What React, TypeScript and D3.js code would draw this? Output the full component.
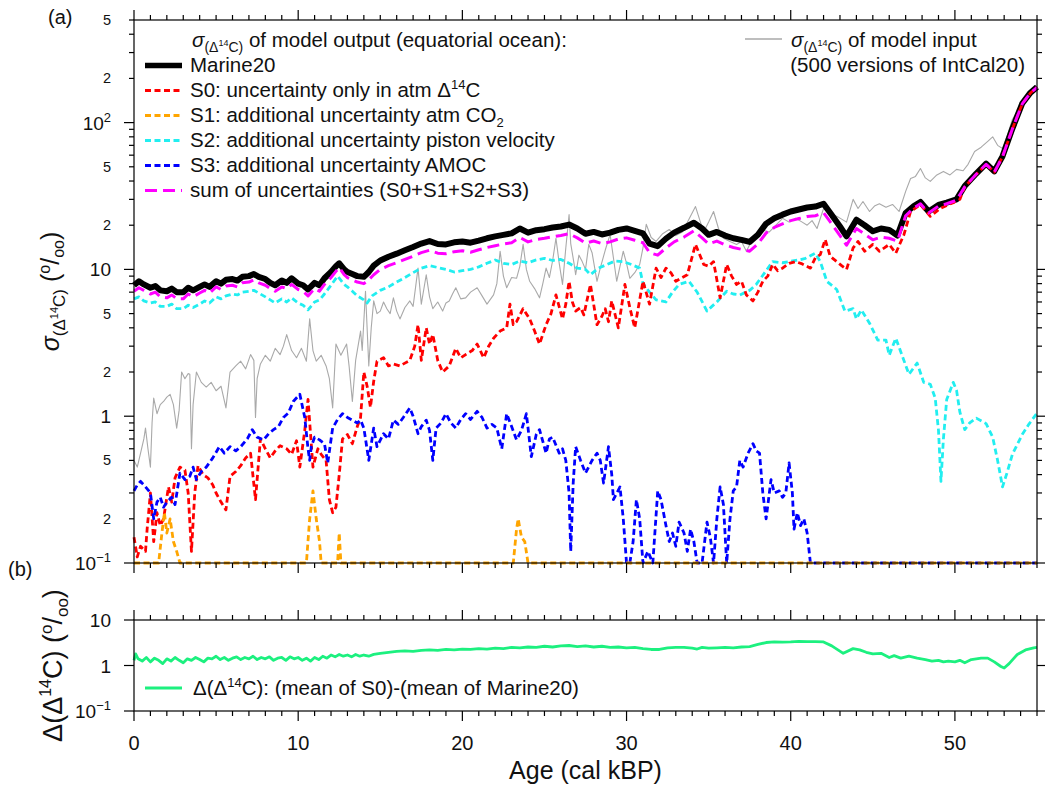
import React, { useEffect, useRef } from 'react';
import * as d3 from 'd3';

type Pt = [number, number];

// ---- panel (a): sigma(D14C) in permil, [age kBP, value] ----
const intcalInput: Pt[] = [
  [0, 0.5], [0.2, 0.45], [0.4, 0.56], [0.6, 0.7], [0.7, 0.83], [0.85, 0.6], [1.0, 0.45], [1.1, 0.9], [1.2, 1.33],
  [1.4, 1.04], [1.6, 1.2], [1.8, 1.26], [2.0, 1.35], [2.2, 1.41], [2.4, 1.2], [2.6, 0.83], [2.75, 1.1], [2.9, 2.0],
  [3.1, 1.8], [3.3, 1.95], [3.4, 1.93], [3.5, 0.6], [3.6, 1.2], [3.8, 2.0], [4.1, 1.7], [4.4, 1.58], [4.7, 1.7],
  [5.0, 1.49], [5.3, 1.6], [5.6, 1.14], [5.85, 2.0], [6.2, 2.2], [6.5, 2.37], [6.8, 2.1], [7.1, 2.63], [7.3, 2.4],
  [7.4, 0.98], [7.5, 1.8], [7.7, 2.27], [8.0, 2.6], [8.3, 2.37], [8.6, 2.9], [8.9, 2.63], [9.1, 3.0], [9.3, 3.6],
  [9.6, 2.8], [9.9, 2.5], [10.2, 2.9], [10.5, 2.37], [10.7, 4.6], [10.9, 2.8], [11.1, 2.37], [11.4, 2.6], [11.7, 2.2],
  [11.9, 1.8], [12.1, 1.14], [12.3, 3.1], [12.6, 2.6], [12.95, 3.1], [13.1, 2.2], [13.3, 1.26], [13.5, 2.4],
  [13.8, 3.8], [13.9, 2.8], [14.1, 7.1], [14.3, 2.2], [14.45, 4.0], [14.6, 6.1], [14.8, 5.0], [15.0, 5.2], [15.2, 6.0],
  [15.4, 5.4], [15.6, 5.0], [15.8, 6.4], [16.0, 5.2], [16.2, 4.6], [16.5, 5.5], [16.8, 6.1], [17.0, 5.6], [17.3, 10.2],
  [17.5, 5.8], [17.8, 9.2], [18.0, 6.5], [18.2, 5.4], [18.5, 6.0], [18.8, 5.2], [19.0, 5.9], [19.2, 6.1], [19.4, 6.8],
  [19.6, 7.5], [19.9, 6.3], [20.2, 6.4], [20.5, 7.0], [20.9, 7.5], [21.2, 6.6], [21.5, 5.8], [21.9, 6.7], [22.1, 8.0],
  [22.3, 13.3], [22.5, 9.0], [22.7, 7.5], [23.0, 8.8], [23.3, 8.7], [23.5, 10.5], [23.7, 14.8], [23.9, 10.0],
  [24.1, 8.3], [24.4, 7.4], [24.7, 6.4], [24.9, 8.0], [25.1, 10.2], [25.3, 8.8], [25.5, 11.5], [25.7, 16.3],
  [25.9, 11.0], [26.1, 7.9], [26.3, 14.0], [26.5, 23.6], [26.6, 15.0], [26.8, 11.0], [26.9, 9.2], [27.1, 12.5],
  [27.3, 11.3], [27.5, 10.0], [27.7, 14.8], [27.9, 13.0], [28.2, 8.3], [28.4, 10.2], [28.7, 13.5], [29.0, 17.3],
  [29.2, 12.0], [29.4, 8.3], [29.6, 10.5], [29.8, 13.3], [30.0, 11.0], [30.2, 8.7], [30.5, 9.5], [30.8, 10.8],
  [31.0, 14.0], [31.2, 20.3], [31.5, 16.5], [31.8, 15.5], [32.2, 17.5], [32.6, 18.7], [33.0, 17.0], [33.4, 18.0],
  [33.8, 22.0], [34.2, 26.8], [34.5, 21.0], [34.7, 18.0], [35.0, 21.0], [35.3, 24.8], [35.6, 19.0], [35.9, 16.3],
  [36.3, 15.5], [36.7, 14.8], [37.0, 15.5], [37.3, 13.3], [37.6, 15.5], [37.9, 17.3], [38.3, 18.5], [38.7, 18.0],
  [39.1, 20.0], [39.5, 22.3], [39.9, 21.0], [40.3, 22.3], [40.7, 21.0], [41.0, 20.0], [41.3, 21.5], [41.6, 19.0],
  [42.0, 26.0], [42.4, 24.0], [42.8, 23.0], [43.1, 22.0], [43.4, 21.0], [43.8, 30.0], [44.1, 26.0], [44.4, 29.0],
  [44.8, 24.8], [45.1, 27.0], [45.4, 28.0], [45.8, 26.5], [46.2, 27.7], [46.6, 24.8], [47.0, 34.0], [47.3, 41.6],
  [47.6, 43.0], [47.9, 48.7], [48.2, 42.0], [48.5, 39.8], [48.9, 44.0], [49.3, 46.5], [49.7, 44.0], [50.1, 48.0],
  [50.5, 47.0], [50.8, 52.0], [51.2, 63.6], [51.6, 68.0], [52.0, 74.5], [52.3, 80], [52.6, 70.0], [52.9, 66.7],
  [53.2, 82], [53.5, 105], [54.1, 136], [54.6, 160], [55, 176],
];

const marine20: Pt[] = [
  [0, 7.8], [0.3, 8.3], [0.6, 7.9], [1, 7.5], [1.3, 7.7], [1.6, 7.2], [2, 7.1], [2.3, 7.4], [2.6, 7.0], [3, 7.0],
  [3.3, 7.5], [3.6, 7.2], [4, 7.6], [4.3, 7.9], [4.6, 7.6], [5, 8.3], [5.3, 8.0], [5.6, 8.5], [6, 8.6], [6.3, 8.4],
  [6.6, 8.9], [7, 9.0], [7.3, 9.3], [7.6, 8.9], [8, 8.6], [8.3, 8.1], [8.6, 7.8], [9, 8.4], [9.3, 8.1], [9.6, 8.7],
  [10, 8.0], [10.3, 7.8], [10.6, 7.3], [11, 8.1], [11.3, 7.8], [11.6, 8.7], [12, 9.6], [12.3, 10.5], [12.5, 11.0],
  [12.8, 10.0], [13, 9.6], [13.3, 9.3], [13.6, 9.0], [14, 8.9], [14.3, 9.6], [14.6, 10.6], [15, 11.5], [15.5, 12.2],
  [16, 12.8], [16.5, 13.5], [17, 14.2], [17.5, 15.0], [18, 15.6], [18.5, 14.9], [19, 14.8], [19.5, 15.3], [20, 15.5],
  [20.5, 15.2], [21, 15.7], [21.5, 16.3], [22, 16.8], [22.5, 17.2], [23, 17.6], [23.5, 19.0], [24, 17.8], [24.5, 18.5],
  [25, 18.8], [25.5, 19.3], [26, 19.6], [26.5, 20.2], [27, 19.0], [27.5, 17.5], [28, 18.0], [28.5, 17.3], [29, 17.8],
  [29.5, 18.6], [30, 19.0], [30.5, 18.3], [31, 17.6], [31.4, 15.0], [31.9, 14.4], [32.4, 16.2], [32.9, 17.8],
  [33.5, 19.2], [34.1, 20.8], [34.6, 19.0], [35, 17.2], [35.5, 18.0], [36, 17.0], [36.5, 16.3], [37, 15.9],
  [37.5, 15.4], [38, 17.2], [38.5, 20.5], [39, 22.3], [39.5, 23.6], [40, 24.8], [40.5, 25.6], [41, 26.4], [41.5, 26.8],
  [42, 28.0], [42.5, 23.5], [43, 19.6], [43.4, 16.8], [44, 21.8], [44.5, 20.0], [45, 18.2], [45.5, 19.0], [46, 18.6],
  [46.5, 17.0], [47, 24.2], [47.5, 27.0], [47.9, 28.8], [48.4, 24.8], [49, 27.5], [49.5, 28.5], [50.1, 30.0],
  [50.6, 37.0], [51.3, 45.0], [51.9, 52.5], [52.4, 46.5], [52.9, 58.9], [53.5, 91], [54.1, 135], [54.6, 160], [55, 175],
];

const s0AtmOnly: Pt[] = [
  [0, 0.15], [0.2, 0.11], [0.4, 0.13], [0.7, 0.12], [0.8, 0.17], [1.0, 0.3], [1.2, 0.14], [1.4, 0.22], [1.6, 0.18],
  [1.8, 0.2], [2.1, 0.33], [2.3, 0.26], [2.5, 0.38], [2.8, 0.45], [3.1, 0.43], [3.3, 0.3], [3.5, 0.12], [3.7, 0.3],
  [3.9, 0.46], [4.2, 0.4], [4.5, 0.38], [4.8, 0.34], [5, 0.3], [5.3, 0.26], [5.6, 0.23], [5.85, 0.39], [6.2, 0.42],
  [6.5, 0.46], [6.8, 0.52], [7.1, 0.56], [7.4, 0.27], [7.7, 0.7], [8.0, 0.6], [8.3, 0.52], [8.6, 0.58], [8.9, 0.63],
  [9.3, 0.6], [9.6, 0.55], [9.9, 0.68], [10.1, 0.45], [10.4, 0.8], [10.6, 1.3], [10.9, 0.45], [11.2, 0.6],
  [11.4, 0.55], [11.7, 0.5], [11.9, 0.27], [12.1, 0.22], [12.3, 0.24], [12.5, 0.4], [12.7, 0.7], [13.0, 0.75],
  [13.3, 0.65], [13.6, 0.85], [13.8, 0.98], [14.0, 2.0], [14.2, 1.6], [14.4, 1.15], [14.6, 1.73], [14.8, 2.37],
  [15.2, 2.5], [15.5, 2.2], [15.8, 2.27], [16.2, 2.2], [16.5, 2.3], [16.8, 2.4], [17.1, 3.0], [17.3, 4.2], [17.5, 2.4],
  [17.8, 4.0], [18.0, 3.1], [18.2, 3.6], [18.5, 2.4], [18.8, 2.0], [19.2, 2.2], [19.6, 2.9], [19.9, 2.5], [20.2, 2.63],
  [20.6, 2.8], [20.9, 3.1], [21.3, 2.5], [21.6, 3.0], [21.9, 3.4], [22.3, 3.8], [22.7, 4.0], [22.9, 5.8], [23.1, 4.2],
  [23.3, 4.4], [23.7, 5.4], [24.1, 4.6], [24.4, 3.8], [24.7, 3.1], [25.1, 4.2], [25.4, 5.0], [25.7, 6.7], [26.1, 4.6],
  [26.3, 5.8], [26.5, 8.3], [26.7, 6.0], [26.9, 5.2], [27.2, 5.5], [27.4, 4.9], [27.8, 7.9], [28.2, 4.2], [28.5, 4.8],
  [28.7, 5.4], [28.9, 4.4], [29.1, 6.1], [29.5, 4.0], [29.9, 7.9], [30.2, 5.5], [30.5, 4.0], [31.0, 8.3], [31.4, 5.8],
  [31.8, 10.2], [32.1, 8.8], [32.4, 10.2], [32.7, 9.5], [33.0, 8.3], [33.4, 8.8], [33.7, 9.2], [34.2, 14.8],
  [34.7, 10.8], [35.0, 10.5], [35.3, 11.3], [35.7, 6.4], [36.1, 10.8], [36.4, 9.0], [36.7, 7.9], [37.0, 8.3],
  [37.3, 6.7], [37.7, 6.1], [38.0, 7.0], [38.3, 8.3], [38.6, 9.0], [38.9, 10.8], [39.2, 9.8], [39.5, 10.2],
  [39.9, 11.0], [40.3, 11.3], [40.7, 10.9], [41.2, 10.2], [41.5, 12.0], [41.8, 12.6], [42.1, 16.0], [42.4, 12.3],
  [42.8, 11.3], [43.1, 10.6], [43.4, 10.0], [43.8, 14.0], [44.1, 15.5], [44.5, 13.3], [45.0, 14.8], [45.4, 13.3],
  [45.7, 14.0], [46.0, 14.8], [46.4, 12.9], [46.9, 17.3], [47.3, 24.8], [47.9, 27.7], [48.5, 23.0], [49.1, 26.0],
  [49.9, 28.5], [50.3, 30], [50.6, 36.5], [51.3, 44.5], [51.9, 52], [52.4, 46], [52.9, 58.5], [53.5, 90.5],
  [54.1, 134], [54.6, 159], [55, 174],
];

const s1Co2: Pt[] = [
  [0, 0.1], [1.5, 0.1], [1.7, 0.16], [1.85, 0.22], [2.0, 0.16], [2.2, 0.2], [2.4, 0.14], [2.6, 0.12], [2.8, 0.1],
  [10.5, 0.1], [10.7, 0.2], [10.9, 0.31], [11.1, 0.2], [11.3, 0.14], [11.4, 0.1], [12.4, 0.1], [12.5, 0.16],
  [12.6, 0.1], [23.1, 0.1], [23.3, 0.17], [23.4, 0.2], [23.6, 0.15], [23.8, 0.14], [24.0, 0.1], [55, 0.1],
];

const s2Piston: Pt[] = [
  [0, 6.3], [0.3, 6.5], [0.6, 6.1], [1, 5.9], [1.3, 6.0], [1.6, 5.6], [2, 5.6], [2.3, 5.8], [2.6, 5.4], [3, 5.4],
  [3.3, 5.7], [3.6, 5.5], [4, 5.8], [4.3, 6.1], [4.6, 5.9], [5, 6.5], [5.3, 6.3], [5.6, 6.6], [6, 6.8], [6.3, 6.7],
  [6.6, 7.0], [7, 7.1], [7.3, 7.2], [7.6, 6.9], [8, 6.5], [8.3, 6.2], [8.6, 5.9], [9, 6.3], [9.3, 6.0], [9.6, 6.4],
  [10, 5.9], [10.3, 5.7], [10.6, 5.3], [11, 6.0], [11.3, 6.2], [11.6, 6.8], [12, 7.8], [12.4, 9.0], [12.8, 7.9],
  [13, 7.6], [13.3, 7.1], [13.6, 6.6], [14, 6.2], [14.2, 5.9], [14.5, 6.6], [15, 7.2], [15.5, 7.6], [16, 8.2],
  [16.5, 8.8], [17, 9.5], [17.5, 10.2], [18, 10.6], [18.5, 10.3], [19, 10.0], [19.5, 9.6], [20, 9.8], [20.5, 10.0],
  [21, 10.4], [21.5, 11.0], [22, 11.6], [22.5, 11.0], [23, 10.8], [23.5, 11.4], [24, 11.1], [24.5, 11.6], [25, 11.9],
  [25.5, 11.5], [26, 11.7], [26.5, 11.0], [27, 10.2], [27.5, 10.0], [27.8, 9.2], [28.3, 10.2], [28.8, 10.8],
  [29.3, 11.4], [29.8, 11.3], [30.3, 10.8], [30.8, 10.2], [31, 8.0], [31.4, 7.0], [31.8, 6.2], [32.4, 6.0],
  [32.8, 7.0], [33.2, 7.9], [33.8, 8.3], [34.3, 7.0], [34.9, 5.2], [35.2, 5.6], [35.5, 6.0], [36.1, 7.1], [36.5, 6.8],
  [36.9, 6.7], [37.5, 7.2], [37.9, 7.9], [38.5, 9.8], [38.9, 11.3], [39.5, 11.1], [39.9, 11.3], [40.5, 11.6],
  [40.9, 11.9], [41.5, 12.9], [41.8, 11.3], [42.2, 8.3], [42.8, 7.3], [43.3, 5.2], [43.8, 5.4], [44.0, 4.6],
  [44.3, 5.3], [44.8, 4.3], [45.3, 3.3], [45.8, 3.3], [46.0, 2.6], [46.4, 3.4], [47.2, 1.93], [47.7, 2.3], [48.1, 1.7],
  [48.5, 1.65], [48.8, 1.33], [49.0, 0.8], [49.15, 0.36], [49.3, 0.7], [49.5, 1.3], [49.9, 1.7], [50.1, 1.5],
  [50.3, 1.07], [50.6, 0.81], [50.9, 0.9], [51.3, 0.97], [51.9, 0.89], [52.3, 0.72], [52.6, 0.5], [52.9, 0.33],
  [53.2, 0.42], [53.5, 0.55], [54.1, 0.75], [54.5, 0.88], [55, 1.05],
];

const s3Amoc: Pt[] = [
  [0, 0.31], [0.2, 0.34], [0.4, 0.36], [0.7, 0.33], [1.0, 0.3], [1.2, 0.2], [1.4, 0.26], [1.6, 0.28], [1.8, 0.24],
  [2.0, 0.26], [2.3, 0.28], [2.5, 0.25], [2.8, 0.41], [3.1, 0.37], [3.4, 0.39], [3.6, 0.45], [3.8, 0.37], [4.1, 0.42],
  [4.4, 0.45], [4.8, 0.52], [5.2, 0.62], [5.5, 0.56], [5.85, 0.62], [6.2, 0.58], [6.5, 0.62], [6.9, 0.7], [7.2, 0.81],
  [7.5, 0.72], [7.9, 0.69], [8.2, 0.76], [8.5, 0.81], [8.8, 0.85], [9.1, 0.98], [9.4, 1.05], [9.7, 1.26], [10.1, 1.41],
  [10.4, 0.98], [10.6, 0.6], [10.7, 0.5], [10.8, 0.62], [11.0, 0.72], [11.3, 0.69], [11.6, 0.65], [11.8, 0.48],
  [12.1, 0.83], [12.4, 0.95], [12.7, 1.04], [13.0, 0.98], [13.3, 0.94], [13.6, 0.9], [13.8, 0.94], [14.0, 0.83],
  [14.3, 0.5], [14.6, 0.83], [14.8, 0.62], [15.2, 0.76], [15.5, 0.7], [15.8, 0.94], [16.1, 0.88], [16.4, 0.98],
  [16.8, 1.14], [17.0, 1.0], [17.3, 0.76], [17.5, 0.85], [17.8, 0.94], [18.0, 0.8], [18.2, 0.5], [18.4, 0.83],
  [18.7, 0.9], [19.0, 1.04], [19.3, 0.9], [19.6, 0.83], [19.9, 0.95], [20.2, 1.04], [20.5, 0.95], [20.9, 1.08],
  [21.2, 0.98], [21.5, 0.83], [21.8, 0.88], [22.1, 0.83], [22.4, 0.6], [22.7, 1.04], [23.0, 0.85], [23.3, 0.69],
  [23.6, 0.8], [23.9, 1.04], [24.2, 0.53], [24.5, 0.75], [24.7, 0.81], [25.1, 0.56], [25.3, 0.7], [25.5, 0.72],
  [25.9, 0.56], [26.1, 0.6], [26.3, 0.5], [26.5, 0.3], [26.6, 0.12], [26.75, 0.35], [26.9, 0.62], [27.2, 0.5],
  [27.5, 0.41], [27.9, 0.5], [28.2, 0.56], [28.4, 0.5], [28.6, 0.35], [28.9, 0.62], [29.1, 0.4], [29.2, 0.27],
  [29.6, 0.33], [29.8, 0.2], [30.0, 0.1], [30.2, 0.1], [30.4, 0.14], [30.6, 0.27], [30.8, 0.2], [31.0, 0.1],
  [31.3, 0.12], [31.6, 0.1], [31.9, 0.31], [32.1, 0.27], [32.4, 0.18], [32.6, 0.14], [32.8, 0.16], [33.0, 0.13],
  [33.2, 0.19], [33.5, 0.16], [33.7, 0.12], [33.9, 0.17], [34.1, 0.14], [34.3, 0.1], [34.6, 0.1], [34.9, 0.19],
  [35.1, 0.15], [35.3, 0.1], [35.5, 0.2], [35.7, 0.33], [35.9, 0.25], [36.1, 0.1], [36.3, 0.2], [36.5, 0.31],
  [36.7, 0.33], [36.9, 0.5], [37.1, 0.45], [37.4, 0.56], [37.7, 0.65], [37.9, 0.58], [38.1, 0.56], [38.3, 0.3],
  [38.5, 0.2], [38.8, 0.37], [39.0, 0.3], [39.3, 0.31], [39.5, 0.28], [39.7, 0.3], [39.9, 0.48], [40.1, 0.3],
  [40.2, 0.17], [40.4, 0.22], [40.6, 0.18], [40.8, 0.2], [41.0, 0.16], [41.2, 0.1], [55, 0.1],
];

const sumOfUncertainties: Pt[] = [
  [0, 7.1], [0.3, 7.5], [0.6, 7.2], [1, 6.8], [1.3, 7.0], [1.6, 6.5], [2, 6.4], [2.3, 6.7], [2.6, 6.3], [3, 6.3],
  [3.3, 6.8], [3.6, 6.5], [4, 6.9], [4.3, 7.2], [4.6, 6.9], [5, 7.6], [5.3, 7.3], [5.6, 7.7], [6, 7.8], [6.3, 7.6],
  [6.6, 8.1], [7, 8.2], [7.3, 8.5], [7.6, 8.1], [8, 7.8], [8.3, 7.4], [8.6, 7.1], [9, 7.6], [9.3, 7.4], [9.6, 7.9],
  [10, 7.3], [10.3, 7.1], [10.6, 6.6], [11, 7.4], [11.3, 7.1], [11.6, 7.9], [12, 8.8], [12.3, 9.7], [12.5, 10.3],
  [12.8, 9.2], [13, 8.8], [13.3, 8.5], [13.6, 8.2], [14, 8.0], [14.3, 8.5], [14.6, 9.2], [15, 10.0], [15.5, 10.6],
  [16, 11.1], [16.5, 11.7], [17, 12.3], [17.5, 13.0], [18, 13.5], [18.5, 12.9], [19, 12.8], [19.5, 13.2], [20, 13.4],
  [20.5, 13.1], [21, 13.6], [21.5, 14.1], [22, 14.5], [22.5, 14.9], [23, 15.2], [23.5, 16.5], [24, 15.4], [24.5, 16.0],
  [25, 16.3], [25.5, 16.7], [26, 17.0], [26.5, 17.5], [27, 16.4], [27.5, 15.1], [28, 15.6], [28.5, 15.0], [29, 15.4],
  [29.5, 16.1], [30, 16.4], [30.5, 15.8], [31, 15.2], [31.4, 13.0], [31.9, 12.5], [32.4, 14.0], [32.9, 15.4],
  [33.5, 16.6], [34.1, 18.3], [34.6, 16.4], [35, 14.9], [35.5, 15.6], [36, 14.7], [36.5, 14.1], [37, 13.7],
  [37.5, 13.3], [38, 14.9], [38.5, 17.7], [39, 19.3], [39.5, 20.4], [40, 21.5], [40.5, 22.2], [41, 22.9], [41.5, 23.2],
  [42, 24.3], [42.5, 20.4], [43, 17.0], [43.4, 14.6], [44, 19.0], [44.5, 17.4], [45, 15.9], [45.5, 16.6], [46, 16.3],
  [46.5, 15.6], [47, 23.2], [47.5, 26.2], [47.9, 28.0], [48.4, 24.2], [49, 27.0], [49.5, 28.0], [50.1, 29.6],
  [50.6, 36.5], [51.3, 44.5], [51.9, 52], [52.4, 46], [52.9, 58.5], [53.5, 90.5], [54.1, 134], [54.6, 159], [55, 174],
];

// ---- panel (b): mean S0 minus mean Marine20, permil ----
const meanDiff: Pt[] = [
  [0, 1.3], [0.1, 1.8], [0.25, 1.4], [0.5, 1.25], [0.75, 1.5], [1, 1.2], [1.25, 1.45], [1.5, 1.3], [1.75, 1.1],
  [2, 1.4], [2.25, 1.25], [2.5, 1.5], [2.75, 1.3], [3, 1.15], [3.25, 1.4], [3.5, 1.3], [3.75, 1.5], [4, 1.35],
  [4.25, 1.2], [4.5, 1.45], [4.75, 1.4], [5, 1.6], [5.25, 1.35], [5.5, 1.5], [5.75, 1.3], [6, 1.45], [6.25, 1.55],
  [6.5, 1.35], [6.75, 1.5], [7, 1.4], [7.25, 1.6], [7.5, 1.35], [7.75, 1.5], [8, 1.4], [8.25, 1.55], [8.5, 1.3],
  [8.75, 1.45], [9, 1.5], [9.25, 1.3], [9.5, 1.55], [9.75, 1.4], [10, 1.5], [10.25, 1.3], [10.5, 1.45], [10.75, 1.25],
  [11, 1.5], [11.25, 1.35], [11.5, 1.6], [11.75, 1.45], [12, 1.7], [12.25, 1.55], [12.5, 1.75], [12.75, 1.6],
  [13, 1.7], [13.25, 1.55], [13.5, 1.75], [13.75, 1.6], [14.0, 1.7], [14.3, 1.6], [14.6, 1.75], [15, 1.85],
  [15.5, 1.95], [16, 2.05], [16.5, 2.1], [17, 2.05], [17.5, 2.15], [18, 2.2], [18.5, 2.15], [19, 2.25], [19.5, 2.2],
  [20, 2.3], [20.5, 2.25], [21, 2.35], [21.5, 2.3], [22, 2.4], [22.5, 2.35], [23, 2.5], [23.5, 2.45], [24, 2.55],
  [24.5, 2.5], [25, 2.65], [25.5, 2.55], [26, 2.7], [26.5, 2.75], [27, 2.6], [27.5, 2.7], [28, 2.55], [28.5, 2.65],
  [29, 2.5], [29.5, 2.55], [30, 2.45], [30.5, 2.5], [31, 2.35], [31.5, 2.25], [32, 2.25], [32.5, 2.45], [33, 2.5],
  [33.5, 2.5], [34, 2.4], [34.3, 2.3], [34.6, 2.5], [35, 2.4], [35.5, 2.45], [36, 2.5], [36.5, 2.45], [37, 2.55],
  [37.5, 2.6], [38, 2.9], [38.5, 3.2], [39, 3.3], [39.5, 3.25], [40, 3.3], [40.5, 3.4], [41, 3.35], [41.5, 3.35],
  [42, 3.3], [42.5, 2.7], [43.2, 1.85], [43.8, 2.35], [44.2, 2.2], [44.6, 1.95], [45, 1.8], [45.5, 1.85], [46, 1.5],
  [46.3, 1.65], [46.7, 1.45], [47.2, 1.6], [47.7, 1.45], [48.2, 1.35], [48.6, 1.25], [49, 1.3], [49.3, 1.2],
  [49.6, 1.25], [50, 1.2], [50.3, 1.3], [50.6, 1.15], [51, 1.35], [51.6, 1.45], [52, 1.45], [52.4, 1.2], [52.8, 0.95],
  [53.0, 0.88], [53.3, 1.1], [53.8, 1.75], [54.3, 2.2], [54.8, 2.45], [55, 2.5],
];

// ---- ticks ----
const ageMajorTicks = [0, 10, 20, 30, 40, 50];
const ageMinorTicks = d3.range(0, 56, 1);
const sigmaDecades = [0.1, 1, 10, 100];
const sigmaMinorTicks = [
  0.2, 0.3, 0.4, 0.5, 0.6, 0.7, 0.8, 0.9, 2, 3, 4, 5, 6, 7, 8, 9,
  20, 30, 40, 50, 60, 70, 80, 90, 200, 300, 400, 500,
];
const sigmaMinorLabels = ['2', '5', '2', '5', '2', '5', '2', '5'];
const sigmaMinorLabelValues = [0.2, 0.5, 2, 5, 20, 50, 200, 500];
const diffDecades = [0.1, 1, 10];

const FONT = '"Liberation Sans", Arial, Helvetica, sans-serif';

export default function App() {
  const svgRef = useRef<SVGSVGElement>(null);

  useEffect(() => {
    if (!svgRef.current) return;
    const svg = d3.select(svgRef.current);
    svg.selectAll('*').remove();

    const left = 134;
    const right = 1037;
    const aTop = 20;
    const aBot = 563;
    const bTop = 620;
    const bBot = 711;

    const x = d3.scaleLinear().domain([0, 55]).range([left, right]);
    const yA = d3.scaleLog().domain([0.1, 500]).range([aBot, aTop]);
    const yB = d3.scaleLog().domain([0.1, 10]).range([bBot, bTop]);

    const lineA = d3.line<Pt>().x(d => x(d[0])).y(d => yA(d[1]));
    const lineB = d3.line<Pt>().x(d => x(d[0])).y(d => yB(d[1]));

    const g = svg.append('g').attr('font-family', FONT);

    // series (panel a)
    const drawSeries = (data: Pt[], color: string, width: number, dash?: string) => {
      g.append('path')
        .datum(data)
        .attr('fill', 'none')
        .attr('stroke', color)
        .attr('stroke-width', width)
        .attr('stroke-linejoin', 'round')
        .attr('stroke-dasharray', dash || null)
        .attr('d', lineA);
    };

    drawSeries(intcalInput, '#a9a9a9', 1.1);
    drawSeries(marine20, '#000000', 6);
    drawSeries(s2Piston, '#22eef0', 2.8, '6,3.5');
    drawSeries(s0AtmOnly, '#ff0000', 2.8, '6,3.5');
    drawSeries(s3Amoc, '#0000ff', 2.8, '6,3.5');
    drawSeries(s1Co2, '#ffa500', 2.8, '6,3.5');
    drawSeries(sumOfUncertainties, '#ff00ff', 3, '12,6');

    // series (panel b)
    g.append('path')
      .datum(meanDiff)
      .attr('fill', 'none')
      .attr('stroke', '#1cf07f')
      .attr('stroke-width', 2.8)
      .attr('stroke-linejoin', 'round')
      .attr('d', lineB);

    // frames
    const frame = (y0: number, y1: number) => {
      g.append('rect')
        .attr('x', left)
        .attr('y', y0)
        .attr('width', right - left)
        .attr('height', y1 - y0)
        .attr('fill', 'none')
        .attr('stroke', '#000')
        .attr('stroke-width', 1.2);
    };
    frame(aTop, aBot);
    frame(bTop, bBot);

    const tick = (x1: number, y1: number, x2: number, y2: number) => {
      g.append('line')
        .attr('x1', x1).attr('y1', y1).attr('x2', x2).attr('y2', y2)
        .attr('stroke', '#000')
        .attr('stroke-width', 1.2);
    };

    // x ticks on every horizontal edge, pointing outward
    const edges: [number, number][] = [[aTop, -1], [aBot, 1], [bTop, -1], [bBot, 1]];
    edges.forEach(([y0, dir]) => {
      ageMinorTicks.forEach(k => {
        const len = ageMajorTicks.includes(k) ? 10 : 5;
        tick(x(k), y0, x(k), y0 + dir * len);
      });
    });

    // y ticks
    sigmaDecades.forEach(v => {
      tick(left, yA(v), left - 10, yA(v));
      tick(right, yA(v), right + 10, yA(v));
    });
    sigmaMinorTicks.forEach(v => {
      tick(left, yA(v), left - 5, yA(v));
      tick(right, yA(v), right + 5, yA(v));
    });
    diffDecades.forEach(v => {
      tick(left, yB(v), left - 10, yB(v));
      tick(right, yB(v), right + 10, yB(v));
    });

    // decade labels: 10^-1, 1, 10, 10^2
    const decadeLabel = (y: number, v: number) => {
      const t = g.append('text')
        .attr('x', 111)
        .attr('y', y + 7)
        .attr('text-anchor', 'end')
        .attr('font-size', 19)
        .attr('fill', '#111');
      const exp = Math.round(Math.log10(v));
      if (exp === 0) t.text('1');
      else if (exp === 1) t.text('10');
      else {
        t.append('tspan').text('10');
        t.append('tspan')
          .attr('font-size', 13)
          .attr('dy', -8)
          .text(exp < 0 ? '\u2212' + Math.abs(exp) : String(exp));
      }
    };
    sigmaDecades.forEach(v => decadeLabel(yA(v), v));
    diffDecades.forEach(v => decadeLabel(yB(v), v));

    sigmaMinorLabelValues.forEach((v, i) => {
      g.append('text')
        .attr('x', 111)
        .attr('y', yA(v) + 5)
        .attr('text-anchor', 'end')
        .attr('font-size', 14.5)
        .attr('fill', '#111')
        .text(sigmaMinorLabels[i]);
    });

    // x tick labels
    ageMajorTicks.forEach(k => {
      g.append('text')
        .attr('x', x(k))
        .attr('y', 750)
        .attr('text-anchor', 'middle')
        .attr('font-size', 20)
        .attr('fill', '#111')
        .text(String(k));
    });

    g.append('text')
      .attr('x', (left + right) / 2)
      .attr('y', 779)
      .attr('text-anchor', 'middle')
      .attr('font-size', 25)
      .attr('fill', '#111')
      .text('Age (cal kBP)');

    // y axis label panel a
    const ya = g.append('text')
      .attr('transform', `translate(59, ${(aTop + aBot) / 2}) rotate(-90)`)
      .attr('text-anchor', 'middle')
      .attr('font-size', 25)
      .attr('fill', '#111');
    ya.append('tspan').attr('font-style', 'italic').text('\u03c3');
    ya.append('tspan').attr('font-size', 17).attr('dy', 6).text('(\u0394');
    ya.append('tspan').attr('font-size', 11).attr('dy', -7).text('14');
    ya.append('tspan').attr('font-size', 17).attr('dy', 7).text('C)');
    ya.append('tspan').attr('dy', -6).text(' (');
    ya.append('tspan').attr('font-size', 16).attr('dy', -9).text('o');
    ya.append('tspan').attr('dy', 9).text('/');
    ya.append('tspan').attr('font-size', 16).attr('dy', 5).text('oo');
    ya.append('tspan').attr('dy', -5).text(')');

    // y axis label panel b
    const yb = g.append('text')
      .attr('transform', `translate(62, ${(bTop + bBot) / 2}) rotate(-90)`)
      .attr('text-anchor', 'middle')
      .attr('font-size', 27)
      .attr('fill', '#111');
    yb.append('tspan').text('\u0394(\u0394');
    yb.append('tspan').attr('font-size', 16).attr('dy', -11).text('14');
    yb.append('tspan').attr('dy', 11).text('C) (');
    yb.append('tspan').attr('font-size', 17).attr('dy', -10).text('o');
    yb.append('tspan').attr('dy', 10).text('/');
    yb.append('tspan').attr('font-size', 17).attr('dy', 6).text('oo');
    yb.append('tspan').attr('dy', -6).text(')');

    // panel letters
    g.append('text').attr('x', 48).attr('y', 24).attr('font-size', 20).attr('fill', '#111').text('(a)');
    g.append('text').attr('x', 8).attr('y', 576).attr('font-size', 20).attr('fill', '#111').text('(b)');

    // legend panel a
    const legX0 = 145;
    const legX1 = 182;
    const legText = 190;
    const legFont = 20.5;
    const title = g.append('text').attr('x', legText + 2).attr('y', 47).attr('font-size', legFont).attr('fill', '#111');
    title.append('tspan').attr('font-style', 'italic').text('\u03c3');
    title.append('tspan').attr('font-size', 14).attr('dy', 5).text('(\u0394');
    title.append('tspan').attr('font-size', 9).attr('dy', -6).text('14');
    title.append('tspan').attr('font-size', 14).attr('dy', 6).text('C)');
    title.append('tspan').attr('dy', -5).text(' of model output (equatorial ocean):');

    const legendRows: { y: number; color: string; width: number; dash?: string }[] = [
      { y: 72, color: '#000000', width: 5.5 },
      { y: 97, color: '#ff0000', width: 2.8, dash: '6,3.5' },
      { y: 122, color: '#ffa500', width: 2.8, dash: '6,3.5' },
      { y: 147, color: '#22eef0', width: 2.8, dash: '6,3.5' },
      { y: 172, color: '#0000ff', width: 2.8, dash: '6,3.5' },
      { y: 197, color: '#ff00ff', width: 3, dash: '12,6' },
    ];
    legendRows.forEach(r => {
      g.append('line')
        .attr('x1', legX0).attr('x2', legX1)
        .attr('y1', r.y - 6.5).attr('y2', r.y - 6.5)
        .attr('stroke', r.color)
        .attr('stroke-width', r.width)
        .attr('stroke-dasharray', r.dash || null);
    });

    const legLabel = (y: number) =>
      g.append('text').attr('x', legText).attr('y', y).attr('font-size', legFont).attr('fill', '#111');

    legLabel(72).text('Marine20');
    const s0t = legLabel(97);
    s0t.append('tspan').text('S0: uncertainty only in atm \u0394');
    s0t.append('tspan').attr('font-size', 13).attr('dy', -8).text('14');
    s0t.append('tspan').attr('dy', 8).text('C');
    const s1t = legLabel(122);
    s1t.append('tspan').text('S1: additional uncertainty atm CO');
    s1t.append('tspan').attr('font-size', 13).attr('dy', 5).text('2');
    legLabel(147).text('S2: additional uncertainty piston velocity');
    legLabel(172).text('S3: additional uncertainty AMOC');
    legLabel(197).text('sum of uncertainties (S0+S1+S2+S3)');

    // legend: model input
    g.append('line')
      .attr('x1', 745).attr('x2', 782)
      .attr('y1', 39).attr('y2', 39)
      .attr('stroke', '#a9a9a9')
      .attr('stroke-width', 1.3);
    const inp = g.append('text').attr('x', 791).attr('y', 47).attr('font-size', legFont).attr('fill', '#111');
    inp.append('tspan').attr('font-style', 'italic').text('\u03c3');
    inp.append('tspan').attr('font-size', 14).attr('dy', 5).text('(\u0394');
    inp.append('tspan').attr('font-size', 9).attr('dy', -6).text('14');
    inp.append('tspan').attr('font-size', 14).attr('dy', 6).text('C)');
    inp.append('tspan').attr('dy', -5).text(' of model input');
    g.append('text')
      .attr('x', 1025).attr('y', 72)
      .attr('text-anchor', 'end')
      .attr('font-size', legFont)
      .attr('fill', '#111')
      .text('(500 versions of IntCal20)');

    // legend panel b
    g.append('line')
      .attr('x1', legX0).attr('x2', legX1)
      .attr('y1', 688).attr('y2', 688)
      .attr('stroke', '#1cf07f')
      .attr('stroke-width', 2.8);
    const bt = g.append('text').attr('x', 193).attr('y', 695).attr('font-size', legFont).attr('fill', '#111');
    bt.append('tspan').text('\u0394(\u0394');
    bt.append('tspan').attr('font-size', 13).attr('dy', -8).text('14');
    bt.append('tspan').attr('dy', 8).text('C): (mean of S0)-(mean of Marine20)');
  }, []);

  return (
    <svg
      ref={svgRef}
      width={1045}
      height={786}
      style={{ position: 'absolute', left: 0, top: 0, background: '#fff' }}
    />
  );
}
